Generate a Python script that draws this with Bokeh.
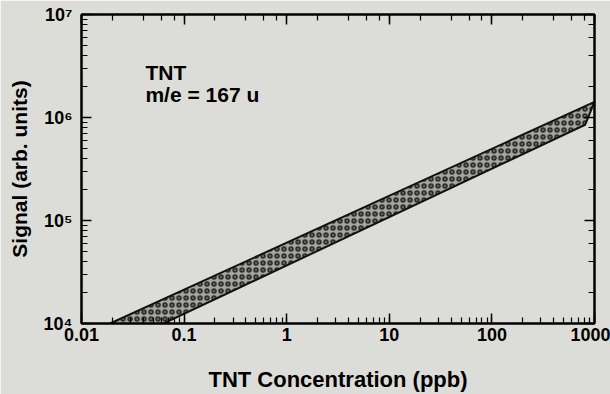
from bokeh.plotting import figure
from bokeh.models import Range1d, LogAxis, LogTicker, CustomJSTickFormatter, Label
from bokeh.embed import file_html
from bokeh.resources import INLINE

# ---- data ----
band_conc_upper = [0.019, 1000.0]       # ppb, upper edge of band
band_signal_upper = [1.0e4, 1.42e6]
band_conc_lower = [0.063, 810.0]        # ppb, lower edge of band
band_signal_lower = [1.0e4, 8.5e5]

x_tick_values = [0.01, 0.1, 1, 10, 100, 1000]
x_tick_labels = ["0.01", "0.1", "1", "10", "100", "1000"]
y_tick_values = [1e4, 1e5, 1e6, 1e7]
y_tick_labels = ["10\u2074", "10\u2075", "10\u2076", "10\u2077"]

annot_lines = ["TNT", "m/e = 167 u"]
annot_x = [0.042, 0.042]
annot_y = [2.71e6, 1.66e6]

BG = "#dcddd8"
FONT = "Liberation Sans"

p = figure(width=610, height=394, x_axis_type="log", y_axis_type="log",
           x_range=Range1d(0.01, 1000), y_range=Range1d(1e4, 1e7),
           output_backend="svg", toolbar_location=None,
           background_fill_color=BG, border_fill_color=BG,
           min_border_left=81, min_border_right=16, min_border_top=14, min_border_bottom=68)
p.grid.visible = False
p.outline_line_color = "black"
p.outline_line_width = 2

# band
xs = band_conc_upper + band_conc_lower[::-1]
ys = band_signal_upper + band_signal_lower[::-1]
p.patch(xs, ys, fill_color="#a4a4a0", line_color="#111111", line_width=2,
        hatch_pattern="ring", hatch_color="#1c1c1c", hatch_scale=7, hatch_weight=2,
        hatch_alpha=0.85)

fmt_code = """
    for (let i = 0; i < vals.length; i++) {
        if (Math.abs(Math.log10(tick) - Math.log10(vals[i])) < 1e-6) return labs[i];
    }
    return ' ';
"""
xfmt = CustomJSTickFormatter(args=dict(vals=x_tick_values, labs=x_tick_labels), code=fmt_code)
yfmt = CustomJSTickFormatter(args=dict(vals=y_tick_values, labs=y_tick_labels), code=fmt_code)

def style(ax):
    ax.axis_line_width = 2
    ax.axis_line_color = "black"
    ax.major_tick_in = 10
    ax.major_tick_out = 0
    ax.minor_tick_in = 6
    ax.minor_tick_out = 0
    ax.major_tick_line_width = 1.5
    ax.minor_tick_line_width = 1.2
    ax.major_tick_line_color = "black"
    ax.minor_tick_line_color = "black"
    ax.major_label_text_font = FONT
    ax.major_label_text_font_style = "bold"
    ax.major_label_text_font_size = "18px"
    ax.major_label_text_color = "black"
    ax.axis_label_text_font = FONT
    ax.axis_label_text_font_style = "bold"
    ax.axis_label_text_color = "black"

xa = p.xaxis[0]
style(xa)
xa.formatter = xfmt
xa.axis_label = "TNT Concentration (ppb)"
xa.axis_label_text_font_size = "22px"
xa.major_label_standoff = 4
xa.axis_label_standoff = 23

ya = p.yaxis[0]
style(ya)
ya.formatter = yfmt
ya.axis_label = "Signal (arb. units)"
ya.axis_label_text_font_size = "21px"
ya.major_label_standoff = 9
ya.axis_label_standoff = 10

for side in ["above", "right"]:
    ax = LogAxis(ticker=LogTicker())
    style(ax)
    ax.major_label_text_font_size = "1px"
    ax.major_label_text_alpha = 0
    ax.major_label_standoff = 0
    p.add_layout(ax, side)

for t, x, y in zip(annot_lines, annot_x, annot_y):
    p.add_layout(Label(x=x, y=y, text=t, text_font=FONT, text_font_style="bold",
                       text_font_size="21px", text_color="black",
                       text_baseline="alphabetic", text_align="left"))

html = file_html(p, INLINE)
html = html.replace("<body>", '<body style="background-color:%s;">' % BG, 1)
open("out.html", "w").write(html)
